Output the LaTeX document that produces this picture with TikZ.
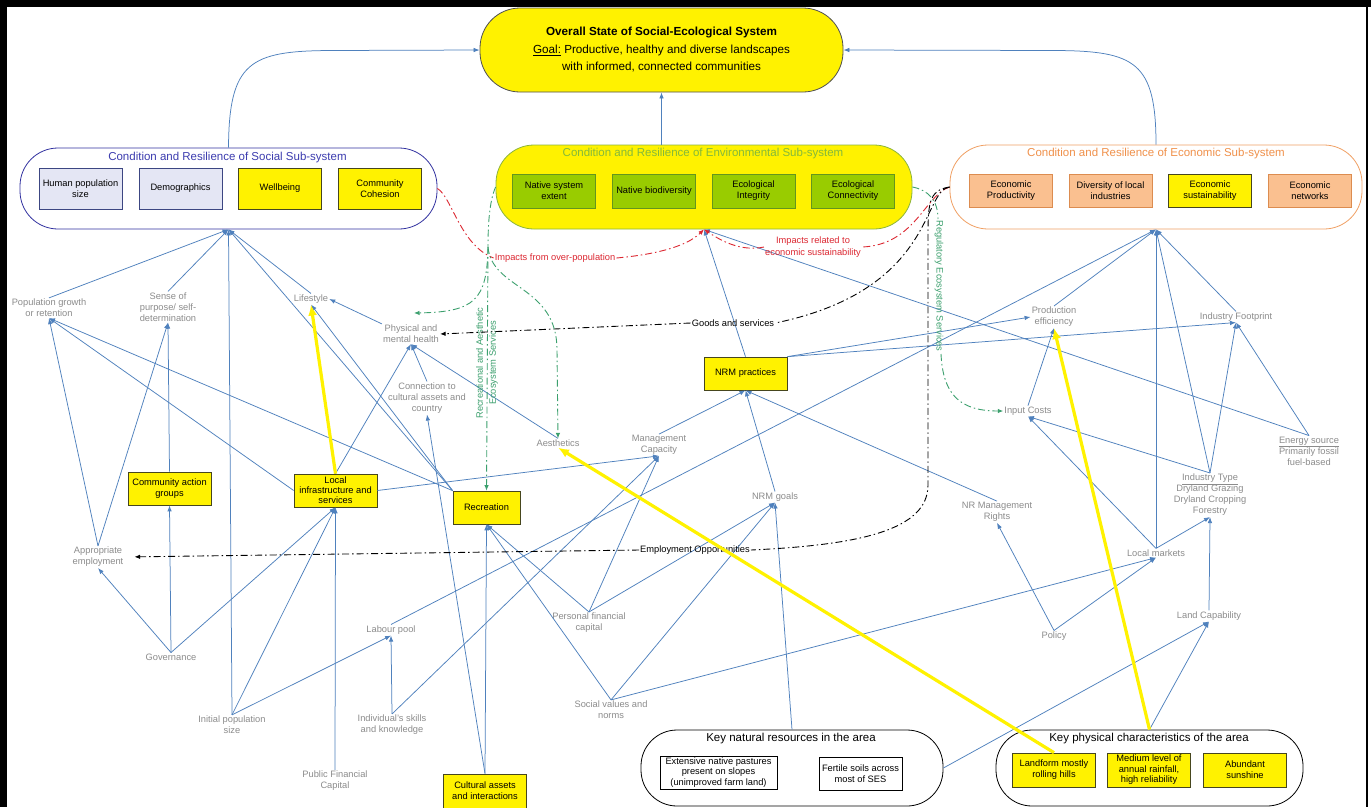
\documentclass[tikz,border=0pt]{standalone}
\usepackage{fontspec}
\setmainfont{Liberation Sans}
\usetikzlibrary{arrows.meta,calc}
\definecolor{linkblue}{RGB}{79,129,189}
\definecolor{lblgray}{RGB}{140,140,140}
\definecolor{ybrd}{RGB}{70,70,30}
\definecolor{socblue}{RGB}{50,50,160}
\definecolor{soctxt}{RGB}{60,60,175}
\definecolor{socfill}{RGB}{228,230,244}
\definecolor{socbrd}{RGB}{60,70,130}
\definecolor{envbrd}{RGB}{140,180,60}
\definecolor{envtxt}{RGB}{130,185,60}
\definecolor{envfill}{RGB}{153,204,0}
\definecolor{envibrd}{RGB}{100,150,30}
\definecolor{ecobrd}{RGB}{240,160,100}
\definecolor{ecotxt}{RGB}{240,145,75}
\definecolor{ecofill}{RGB}{250,192,144}
\definecolor{ecoibrd}{RGB}{220,140,80}
\definecolor{impred}{RGB}{220,40,50}
\definecolor{esgreen}{RGB}{60,160,110}
\definecolor{topbrd}{RGB}{80,80,80}
\begin{document}
\begin{tikzpicture}[x=1pt,y=-1pt,
  every node/.style={inner sep=1pt},
  sm/.style={font=\fontsize{9.3}{11}\selectfont},
  lbl/.style={sm, text=lblgray, align=center},
  bx/.style={sm, draw, line width=0.7pt, minimum width=83pt, minimum height=33pt, align=center, inner sep=1pt},
  ybox/.style={bx, draw=ybrd, fill=yellow},
  sbox/.style={bx, draw=socbrd, fill=socfill, minimum height=41pt},
  ebox/.style={bx, draw=envibrd, fill=envfill, minimum height=34pt},
  obox/.style={bx, draw=ecoibrd, fill=ecofill},
  wbox/.style={bx, draw=black, fill=white},
  grp/.style={line width=0.8pt, rounded corners=38pt},
  gtitle/.style={font=\fontsize{11.5}{13}\selectfont},
  link/.style={draw=linkblue, line width=0.75pt, -{Latex[length=6pt,width=4.5pt]}},
  ylink/.style={draw=yellow, line width=3.2pt, -{Latex[length=11pt,width=9pt]}},
  dd/.style={line width=0.9pt, dash pattern=on 7pt off 3pt on 1.5pt off 3pt},
  ddarrow/.style={dd, -{Latex[length=5.5pt,width=4.5pt]}},
  dlbl/.style={sm, fill=white, inner sep=0.5pt}
]
\useasboundingbox (0,0) rectangle (1371,807);
\fill[white] (0,0) rectangle (1371,807);
% frame
\fill[black] (0,0) rectangle (7,807);
\fill[black] (0,0) rectangle (1371,7);
\fill[black] (1365.5,0) rectangle (1367.5,807);

% top node
\node[draw=topbrd, fill=yellow, line width=0.8pt, rounded corners=40pt, minimum width=363pt, minimum height=84pt, align=center, font=\fontsize{11.7}{17.5}\selectfont] (top) at (661.5,50)
 {\textbf{Overall State of Social-Ecological System}\\\underline{Goal:} Productive, healthy and diverse landscapes\\with informed, connected communities};

% social subsystem
\node[grp, draw=socblue, fill=white, minimum width=417pt, minimum height=81pt] (soc) at (228.5,188.5) {};
\node[gtitle, text=soctxt] (soct) at (227.5,158) {Condition and Resilience of Social Sub-system};
\node[sbox] (hps) at (80.5,188.5) {Human population\\size};
\node[sbox] (dem) at (180.5,188.5) {Demographics};
\node[sbox, fill=yellow, draw=ybrd] (wb) at (280,188.5) {Wellbeing};
\node[sbox, fill=yellow, draw=ybrd] (cc) at (380,188.5) {Community\\Cohesion};

% environmental subsystem
\node[grp, draw=envbrd, fill=yellow, minimum width=416pt, minimum height=84pt] (env) at (704,187) {};
\node[gtitle, text=envtxt] (envt) at (703,154) {Condition and Resilience of Environmental Sub-system};
\node[ebox] (nse) at (554,191) {Native system\\extent};
\node[ebox] (nbd) at (654,191) {Native biodiversity};
\node[ebox] (eint) at (753.5,191) {Ecological\\Integrity};
\node[ebox] (econn) at (853,191) {Ecological\\Connectivity};

% economic subsystem
\node[grp, draw=ecobrd, fill=white, minimum width=412pt, minimum height=84pt] (econ) at (1156,187) {};
\node[gtitle, text=ecotxt] (econt) at (1156,154) {Condition and Resilience of Economic Sub-system};
\node[obox] (eprod) at (1011,190.5) {Economic\\Productivity};
\node[obox] (dli) at (1110.5,190.5) {Diversity of local\\industries};
\node[obox, fill=yellow, draw=ybrd] (esus) at (1210,190.5) {Economic\\sustainability};
\node[obox] (enet) at (1310,190.5) {Economic\\networks};

% gray labels
\node[lbl] (popg) at (49,308) {Population growth\\or retention};
\node[lbl] (sense) at (168,307) {Sense of\\purpose/ self-\\determination};
\node[lbl] (life) at (311,299) {Lifestyle};
\node[lbl] (phys) at (411,334) {Physical and\\mental health};
\node[lbl] (conn) at (427,398) {Connection to\\cultural assets and\\country};
\node[lbl] (aest) at (558,443) {Aesthetics};
\node[lbl] (mgmt) at (659,445) {Management\\Capacity};
\node[lbl] (nrmg) at (775,497) {NRM goals};
\node[lbl] (prod) at (1054,317) {Production\\efficiency};
\node[lbl] (foot) at (1236,317) {Industry Footprint};
\node[lbl] (input) at (1028,411) {Input Costs};
\node[lbl] (energy) at (1309,451) {\underline{Energy source}\\Primarily fossil\\fuel-based};
\node[lbl] (itype) at (1210,495) {\underline{Industry Type}\\Dryland Grazing\\Dryland Cropping\\Forestry};
\node[lbl] (nrr) at (997,512) {NR Management\\Rights};
\node[lbl] (lmkt) at (1156,553) {Local markets};
\node[lbl] (landc) at (1209,616) {Land Capability};
\node[lbl] (policy) at (1054,636) {Policy};
\node[lbl] (appemp) at (98,557) {Appropriate\\employment};
\node[lbl] (gov) at (171,657) {Governance};
\node[lbl] (labour) at (391,630) {Labour pool};
\node[lbl] (initpop) at (232,725) {Initial population\\size};
\node[lbl] (skills) at (392,725) {Individual's skills\\and knowledge};
\node[lbl] (pubfin) at (335,781) {Public Financial\\Capital};
\node[lbl] (persfin) at (589,623) {Personal financial\\capital};
\node[lbl] (socval) at (611,710) {Social values and\\norms};

% yellow boxes
\node[ybox] (cag) at (169.5,488.5) {Community action\\groups};
\node[ybox, font=\fontsize{9.3}{10}\selectfont] (linf) at (335.5,490.5) {Local\\infrastructure and\\services};
\node[ybox, minimum width=67pt] (rec) at (486.5,507.5) {Recreation};
\node[ybox] (nrmp) at (745.5,373.5) {NRM practices};
\node[ybox, minimum height=34pt] (cult) at (485,791) {Cultural assets\\and interactions};

% key natural resources
\node[grp, draw=black, fill=white, rounded corners=36pt, minimum width=302pt, minimum height=76pt] (keynat) at (792,768) {};
\node[gtitle] (keynatt) at (791,739) {Key natural resources in the area};
\node[wbox, minimum width=117pt, font=\fontsize{9.3}{10.5}\selectfont] (past) at (718.5,772.5) {Extensive native pastures\\present on slopes\\(unimproved farm land)};
\node[wbox] (fert) at (860.5,773.5) {Fertile soils across\\most of SES};

% key physical characteristics
\node[grp, draw=black, fill=white, rounded corners=36pt, minimum width=307pt, minimum height=76pt] (keyphys) at (1149.5,768) {};
\node[gtitle] (keyphyst) at (1149,739) {Key physical characteristics of the area};
\node[ybox, minimum height=34pt] (land) at (1054,770) {Landform mostly\\rolling hills};
\node[ybox, minimum height=34pt, font=\fontsize{9.3}{10.5}\selectfont] (rain) at (1149,770) {Medium level of\\annual rainfall,\\high reliability};
\node[ybox, minimum height=34pt] (sun) at (1245,770) {Abundant\\sunshine};

% arrows into top node
\draw[link] (soc.north) .. controls (229,62) and (250,51) .. (330,50.5) -- (top.west);
\draw[link] (econ.north) .. controls (1156,62) and (1135,51) .. (1056,50.5) -- (top.east);
\draw[link] (top.south |- env.north) -- (top.south);

% blue links
\draw[link] (popg.north) -- (soc.south);
\draw[link] (sense.north) -- (soc.south);
\draw[link] (initpop.north) -- (soc.south);
\draw[link] (life.north) -- (soc.south);
\draw[link] (rec.north west) -- (soc.south);
\draw[link] (rec.north west) -- (life.south);
\draw[link] (rec.north west) -- (popg.south);
\draw[link] (cult.north) -- (rec.south);
\draw[link] (persfin.north) -- (rec.south);
\draw[link] (socval.north) -- (rec.south);
\draw[link] (appemp.north) -- (popg.south);
\draw[link] (linf.west) -- (popg.south);
\draw[link] (cag.north) -- (sense.south);
\draw[link] (appemp.north) -- (sense.south);
\draw[link] (gov.north) -- (cag.south);
\draw[link] (gov.north) -- (appemp.south);
\draw[link] (gov.north) -- (linf.south);
\draw[link] (initpop.north) -- (linf.south);
\draw[link] (pubfin.north) -- (linf.south);
\draw[link] (linf.north) -- (phys.south);
\draw[link] (linf.east) -- (mgmt.south);
\draw[link] (phys.north west) -- (life.east);
\draw[link] (conn.north) -- (phys.south);
\draw[link] (aest.north) -- (phys.south);
\draw[link] (cult.north) -- (conn.south);
\draw[link] (skills.north) -- (mgmt.south);
\draw[link] (persfin.north) -- (mgmt.south);
\draw[link] (mgmt.north) -- (nrmp.south);
\draw[link] (skills.north) -- (labour.south);
\draw[link] (initpop.north) -- (labour.south);
\draw[link] (labour.north) -- (econ.south);
\draw[link] (persfin.north) -- (nrmg.south);
\draw[link] (socval.north) -- (nrmg.south);
\draw[link] (socval.north) -- (lmkt.south);
\draw[link] (nrmg.north) -- (nrmp.south);
\draw[link] (keynat.north) -- (nrmg.south);
\draw[link] (keynat.east) -- (landc.south);
\draw[link] (keyphys.north) -- (landc.south);
\draw[link] (landc.north) -- (itype.south);
\draw[link] (lmkt.north) -- (econ.south);
\draw[link] (lmkt.north) -- (input.south);
\draw[link] (lmkt.north) -- (itype.south);
\draw[link] (policy.north) -- (nrr.south);
\draw[link] (policy.north) -- (lmkt.south);
\draw[link] (nrr.north) -- (nrmp.south);
\draw[link] (nrmp.north) -- (env.south);
\draw[link] (nrmp.north east) -- (prod.west);
\draw[link] (nrmp.north east) -- (foot.south);
\draw[link] (energy.north) -- (env.south);
\draw[link] (energy.north) -- (foot.south);
\draw[link] (itype.north) -- (foot.south);
\draw[link] (itype.north) -- (input.south);
\draw[link] (itype.north) -- (econ.south);
\draw[link] (foot.north) -- (econ.south);
\draw[link] (prod.north) -- (econ.south);
\draw[link] (input.north) -- (prod.south);

% dashed labels
\node[sm, text=impred] (ov) at (555,258) {Impacts from over-population};
\node[sm, text=impred, align=center, font=\fontsize{9.3}{11.5}\selectfont] (ov2) at (813,247) {Impacts related to\\economic sustainability};
\node[sm] (gs) at (733,323) {Goods and services};
\node[sm] (emp) at (695,550) {Employment Opportunities};
\node[sm, text=esgreen, rotate=90, align=center, font=\fontsize{9.3}{13}\selectfont] (recl) at (487,363) {Recreational and Aesthetic\\Ecosystem Services};
\node[sm, text=esgreen, rotate=-90] (regl) at (939,286) {Regulatory Ecosystem Services};

\coordinate (gj) at (488,247);
\coordinate (physg) at (414,313);
\coordinate (regtop) at (938,219);
\coordinate (regbot) at (941,354);
\coordinate (empturn) at (928,485);

% red impacts
\draw[dd, draw=impred] (soc.east) .. controls (452,197) and (460,245) .. (ov.west);
\draw[ddarrow, draw=impred] (ov.east) .. controls (650,255) and (685,248) .. (env.south);
\draw[dd, draw=impred] (econ.west) .. controls (925,195) and (915,245) .. (ov2.east);
\draw[ddarrow, draw=impred] (ov2.west) .. controls (740,252) and (720,240) .. (env.south);

% goods and services, employment
\draw[dd] (econ.west) .. controls (922,190) and (935,290) .. (gs.east);
\draw[ddarrow] (gs.west) -- (phys.east);
\draw[dd] (econ.west) .. controls (928,190) and (928,205) .. (928,240) -- (empturn) .. controls (928,530) and (860,545) .. (emp.east);
\draw[ddarrow, shorten >=10pt] (emp.west) -- (appemp.east);

% green ecosystem services
\draw[dd, draw=esgreen] (env.west) .. controls (490,200) and (488,220) .. (gj);
\draw[ddarrow, draw=esgreen] (gj) .. controls (487,300) and (475,312) .. (physg);
\draw[ddarrow, draw=esgreen] (gj) -- (rec.north);
\draw[ddarrow, draw=esgreen] (gj) .. controls (492,290) and (557,285) .. (557,350) -- (aest.north);
\draw[dd, draw=esgreen] (env.east) .. controls (928,190) and (938,200) .. (regtop);
\draw[ddarrow, draw=esgreen] (regbot) .. controls (943,395) and (960,411) .. (input.west);

% yellow arrows
\draw[ylink] (linf.north) -- (life.south);
\draw[ylink] (keyphys.north) -- (prod.south);
\draw[ylink] (land.north) -- (aest.south);
\end{tikzpicture}
\end{document}
